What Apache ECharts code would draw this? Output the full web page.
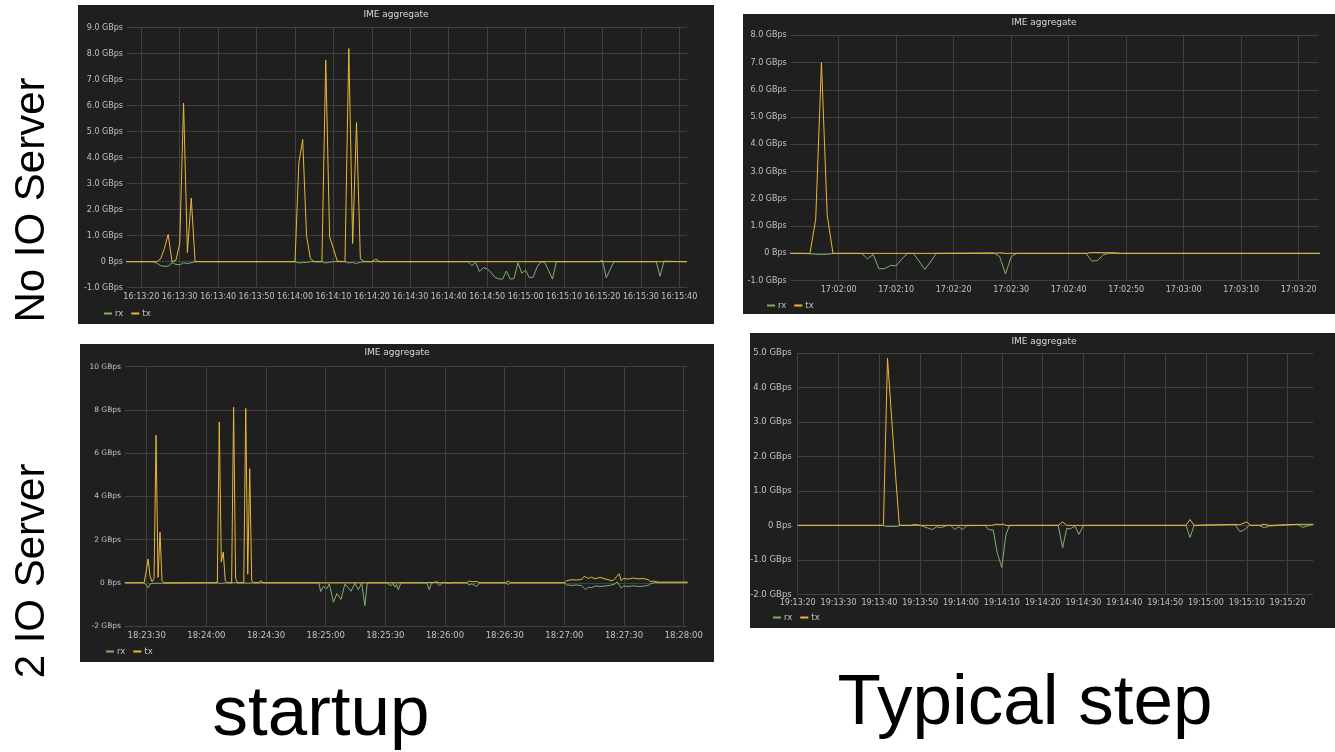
<!DOCTYPE html>
<html>
<head>
<meta charset="utf-8">
<title>IME aggregate</title>
<script src="https://cdn.jsdelivr.net/npm/echarts@6/dist/echarts.min.js"></script>
<style>
  html, body { margin: 0; padding: 0; background: #ffffff; }
  #chart { width: 1335px; height: 752px; }
</style>
</head>
<body>
<div id="chart"></div>
<script>
// Throughput samples in GBps: [seconds after the first labelled tick, value]

// No IO Server, startup (first tick 16:13:20)
const startupNoIoRx = [[-4,0],[3,0],[4,-0.05],[5,-0.15],[6,-0.18],[7,-0.17],[8,-0.04],[9,-0.1],[10,-0.12],[11,-0.04],[12,-0.07],[13,-0.04],[14,0],
  [40,0],[41,-0.05],[42,-0.03],[43,-0.03],[44,0],[47,0],[48,-0.05],[49,-0.02],[50,0],[53,0],[54,-0.05],[55,-0.03],[56,-0.07],[57,-0.02],[58,0],
  [85,0],[86,-0.15],[87,-0.03],[88,-0.38],[89,-0.23],[90,-0.27],[91,-0.42],[92,-0.59],[93,-0.66],[94,-0.67],[95,-0.36],[96,-0.67],[97,-0.65],
  [98,-0.04],[99,-0.44],[100,-0.33],[101,-0.62],[102,-0.59],[103,-0.2],[104,0],[105,-0.03],[106,-0.35],[107,-0.67],[108,0],
  [119,0],[120,0.05],[121,-0.62],[122,-0.3],[123,0],[134,0],[135,-0.56],[136,0.02],[142,0]];
const startupNoIoTx = [[-4,0],[4,0],[5,0.1],[6,0.5],[7,1.05],[8,0],[9,0.05],[10,0.7],[11,6.1],[12,0.35],[13,2.45],[14,0],
  [40,0],[41,3.8],[42,4.7],[43,1.0],[44,0.12],[45,0],[47,0],[48,7.75],[49,0.95],[50,0.5],[51,0.02],[53,0],[54,8.2],[55,0.7],[56,5.35],
  [57,0.12],[58,0],[60,0],[61,0.1],[62,0],[142,0]];
const startupNoIoTicks = ['16:13:20','16:13:30','16:13:40','16:13:50','16:14:00','16:14:10','16:14:20','16:14:30',
  '16:14:40','16:14:50','16:15:00','16:15:10','16:15:20','16:15:30','16:15:40'];

// No IO Server, typical step (first tick 17:02:00)
const stepNoIoRx = [[-9,0],[-6,0],[-5,-0.02],[-4,-0.03],[-3,-0.04],[-2,-0.03],[-1,-0.01],[0,0],[4,0],[5,-0.2],[6,-0.04],[7,-0.57],
  [8,-0.56],[9,-0.44],[10,-0.46],[11,-0.2],[12,0],[13,0],[15,-0.59],[17,0],[27,0.02],[28,-0.12],[29,-0.76],[30,-0.12],[31,0],
  [43,0],[44,-0.28],[45,-0.27],[46,-0.05],[47,0],[84,0]];
const stepNoIoTx = [[-9,0],[-5,0],[-4,1.25],[-3,7.0],[-2,1.4],[-1,0],[27,0],[28,0.02],[29,0],[43,0],[44,0.03],[48,0.02],[49,0],[84,0]];
const stepNoIoTicks = ['17:02:00','17:02:10','17:02:20','17:02:30','17:02:40','17:02:50','17:03:00','17:03:10','17:03:20'];

// 2 IO Server, startup (first tick 18:23:30)
const startup2IoRx = [[-11,0],[-1.3,0],[-0.3,-0.1],[0.7,-0.23],[1.7,-0.05],[2.7,-0.12],[3.7,-0.02],[4.7,-0.05],[5.7,-0.02],[6.7,-0.06],
  [7.7,-0.02],[8.7,0],[35.5,0],[36.5,-0.05],[37.5,-0.03],[38.5,-0.05],[39.5,0],[42.7,0],[43.7,-0.04],[44.7,0],[48.8,0],[49.8,-0.06],
  [50.8,-0.02],[51.8,-0.04],[52.8,0],
  [86.5,0],[87.5,-0.4],[88.8,-0.17],[90.5,-0.28],[91.8,-0.05],[93.9,-0.9],[95.6,-0.5],[97.7,-0.77],[99.7,-0.05],[102.7,-0.39],
  [104.7,-0.02],[106.4,-0.32],[108.1,-0.02],[109.7,-1.06],[110.9,0],
  [120.5,0],[121.5,-0.05],[122.8,-0.14],[123.8,-0.03],[124.8,-0.2],[125.6,-0.08],[126.5,-0.32],[127.8,0],
  [140.8,0],[142,-0.32],[143.3,0],[145.5,0.02],[147.3,-0.14],[149,0.02],[151.7,-0.03],[153,0],
  [161,0],[162,-0.1],[163.5,-0.05],[165.9,-0.17],[167.6,0],[180.5,0],[181.8,-0.08],[183,0],
  [210,0],[211.2,-0.1],[213.7,-0.12],[216.2,-0.1],[218.7,-0.13],[220.7,-0.32],[222,-0.2],[223.7,-0.23],[225.4,-0.15],[227.9,-0.17],
  [230.4,-0.15],[232.9,-0.12],[235.5,-0.05],[236.5,0.05],[238.6,-0.25],[239.6,-0.15],[242.1,-0.17],[244.7,-0.14],[247.2,-0.17],
  [249.7,-0.16],[252.2,-0.12],[253.5,-0.04],[255,0],[272,0]];
const startup2IoTx = [[-11,0],[-1.3,0],[-0.3,0.5],[0.7,1.1],[1.7,0.3],[2.7,0.05],[3.7,0.2],[4.7,6.82],[5.7,0.25],[6.7,2.34],[7.7,0.1],
  [8.7,0],[35.5,0],[36.5,7.44],[37.5,0.96],[38.5,1.42],[39.5,0.1],[40.5,0],[42.7,0],[43.7,8.13],[44.7,0.2],[45.7,0],[48.8,0],
  [49.8,8.07],[50.8,0.4],[51.8,5.28],[52.8,0.1],[53.8,0],[56.5,0],[57.4,0.1],[58.4,0],
  [140.8,0],[142,0.02],[144,0],[145.5,0.05],[147,0],[160.9,0],[162,0.08],[164,0.05],[166,0.06],[167.6,0],[180.5,0],[181.8,0.08],[183,0],
  [210,0],[211.2,0.1],[213.7,0.14],[216.2,0.13],[218.7,0.15],[220,0.3],[220.7,0.34],[222,0.2],[223.7,0.26],[225.4,0.18],[227.9,0.25],
  [230.4,0.18],[232.9,0.12],[234.5,0.1],[235.5,0.18],[237.5,0.42],[238.6,0.1],[239.6,0.2],[242.1,0.17],[244.7,0.22],[247.2,0.18],
  [249.7,0.2],[252.2,0.14],[253.5,0.05],[254.7,0.08],[257.2,0.03],[272,0.03]];
const startup2IoTicks = ['18:23:30','18:24:00','18:24:30','18:25:00','18:25:30','18:26:00','18:26:30','18:27:00','18:27:30','18:28:00'];

// 2 IO Server, typical step (first tick 19:13:20)
const step2IoRx = [[0,0],[20.8,0],[21.5,-0.03],[24.5,-0.03],[25,0],[30,0],[30.9,-0.04],[32.9,-0.12],[34.1,-0.04],[35.2,-0.07],[36.5,0],
  [37.5,0],[38.5,-0.12],[39.4,-0.04],[40.4,-0.12],[41.4,-0.01],[45.9,0],[46.7,-0.12],[47.9,-0.14],[48.9,-0.81],[50,-1.22],[51,-0.28],
  [51.8,-0.02],[52.5,0],[63.8,0],[64.9,-0.65],[65.9,-0.09],[66.8,-0.1],[67.9,-0.02],[68.9,-0.26],[69.9,-0.02],[70.5,0],
  [95.1,0],[96.1,-0.35],[97.1,0],[107.1,0.03],[108.3,-0.18],[109.3,-0.14],[110.6,0],[113,0],[114.3,-0.07],[115.5,-0.02],
  [122.5,0.03],[123.8,-0.06],[125,-0.01],[126.3,0.03]];
const step2IoTx = [[0,0],[21,0],[22,4.85],[24.1,1.25],[24.9,0],[28,0],[28.5,0.03],[30,0],[47.5,0],[48.5,0.03],[50.5,0.03],[51,0],
  [63.8,0],[64.9,0.1],[65.9,0],[95.1,0],[96.1,0.17],[97.1,0],[107.1,0.02],[108.3,0.02],[110,0.1],[111,0],[113,0],[114.3,0.03],
  [115.5,0],[122.5,0.03],[126.3,0.03]];
const step2IoTicks = ['19:13:20','19:13:30','19:13:40','19:13:50','19:14:00','19:14:10','19:14:20','19:14:30','19:14:40',
  '19:14:50','19:15:00','19:15:10','19:15:20'];

// Styling
const RX_COLOR = '#7EB26D';
const TX_COLOR = '#EAB839';
const PANEL_BG = '#1f1f1f';
const GRID_COLOR = '#404040';
const LABEL_COLOR = '#c2c2c2';
const MONO = '"DejaVu Sans", sans-serif';

const fmtTenth = v => (v === 0 ? '0 Bps' : v.toFixed(1) + ' GBps');
const fmtWhole = v => (v === 0 ? '0 Bps' : v + ' GBps');

// Panel layout: box = panel rectangle, plot = [left, top, right, bottom] of the drawing area,
// span = time range (s) covered by the drawing area, legendAt = [x, y] of the legend
const panels = [
  { rx: startupNoIoRx, tx: startupNoIoTx, ticks: startupNoIoTicks, step: 10,
    yMin: -1, yMax: 9, yStep: 1, yFmt: fmtTenth, yFont: 8, xFont: 8,
    box: [78, 5, 636, 319], plot: [127, 27.7, 687, 287.7], span: [-3.72, 142.0],
    titleAt: [396, 15], legendAt: [104, 309], yMargin: 4 },
  { rx: stepNoIoRx, tx: stepNoIoTx, ticks: stepNoIoTicks, step: 10,
    yMin: -1, yMax: 8, yStep: 1, yFmt: fmtTenth, yFont: 8, xFont: 8,
    box: [743, 14, 600, 300], plot: [790.7, 35.3, 1318.7, 280.6], span: [-8.35, 83.48],
    titleAt: [1044, 23], legendAt: [767, 301], yMargin: 4 },
  { rx: startup2IoRx, tx: startup2IoTx, ticks: startup2IoTicks, step: 30,
    yMin: -2, yMax: 10, yStep: 2, yFmt: fmtWhole, yFont: 7.5, xFont: 8.5,
    box: [80, 344, 634, 318], plot: [125, 366.7, 687.3, 626], span: [-10.91, 271.8],
    titleAt: [397, 353], legendAt: [106, 647], yMargin: 4 },
  { rx: step2IoRx, tx: step2IoTx, ticks: step2IoTicks, step: 10,
    yMin: -2, yMax: 5, yStep: 1, yFmt: fmtTenth, yFont: 8.5, xFont: 8,
    box: [750, 333, 600, 295], plot: [797.7, 353, 1313.3, 594.3], span: [0, 126.3],
    titleAt: [1044, 342], legendAt: [773, 613], yMargin: 6 }
];

const grid = [], xAxis = [], yAxis = [], series = [], legend = [], graphic = [];

panels.forEach((p, i) => {
  const [L, T, R, B] = p.plot;
  const [a, b] = p.span;
  const pxPerSec = (R - L) / (b - a);
  const lastTick = (p.ticks.length - 1) * p.step;
  const gData = grid.length;
  const gTicks = gData + 1;

  graphic.push({
    type: 'rect', z: -10, silent: true,
    shape: { x: p.box[0], y: p.box[1], width: p.box[2], height: p.box[3] },
    style: { fill: PANEL_BG }
  });
  graphic.push({
    type: 'text', z: 10, silent: true, x: p.titleAt[0], y: p.titleAt[1],
    style: { text: 'IME aggregate', fill: '#d8d9da', font: '9px ' + MONO,
             align: 'center', verticalAlign: 'middle', textAlign: 'center', textVerticalAlign: 'middle' }
  });

  // drawing area: series + horizontal grid lines
  grid.push({ left: L, top: T, width: R - L, height: B - T, containLabel: false });
  // labelled time ticks: spans first to last tick, same vertical extent
  grid.push({ left: L + (0 - a) * pxPerSec, top: T, width: lastTick * pxPerSec, height: B - T, containLabel: false });

  xAxis.push({ gridIndex: gData, type: 'value', min: a, max: b, show: false });
  yAxis.push({
    gridIndex: gData, type: 'value', min: p.yMin, max: p.yMax, interval: p.yStep,
    axisLine: { show: false }, axisTick: { show: false },
    axisLabel: { formatter: p.yFmt, color: LABEL_COLOR, fontSize: p.yFont, fontFamily: MONO, margin: p.yMargin },
    splitLine: { show: true, lineStyle: { color: GRID_COLOR, width: 1 } }
  });

  xAxis.push({
    gridIndex: gTicks, type: 'value', min: 0, max: lastTick, interval: p.step,
    axisLine: { show: false }, axisTick: { show: false },
    axisLabel: {
      formatter: v => p.ticks[Math.round(v / p.step)] || '',
      color: LABEL_COLOR, fontSize: p.xFont, fontFamily: MONO, margin: 5,
      showMinLabel: true, showMaxLabel: true, hideOverlap: false
    },
    splitLine: { show: true, lineStyle: { color: GRID_COLOR, width: 1 } }
  });
  yAxis.push({ gridIndex: gTicks, type: 'value', min: 0, max: 1, show: false });

  series.push({
    name: 'rx', type: 'line', xAxisIndex: gData, yAxisIndex: gData, data: p.rx,
    color: RX_COLOR, showSymbol: false, symbol: 'none', smooth: false, z: 3,
    lineStyle: { color: RX_COLOR, width: 1 }, animation: false
  });
  series.push({
    name: 'tx', type: 'line', xAxisIndex: gData, yAxisIndex: gData, data: p.tx,
    color: TX_COLOR, showSymbol: false, symbol: 'none', smooth: false, z: 4,
    lineStyle: { color: TX_COLOR, width: 1 }, animation: false
  });

  legend.push({
    left: p.legendAt[0], top: p.legendAt[1], orient: 'horizontal',
    data: ['rx', 'tx'], icon: 'rect', itemWidth: 8, itemHeight: 2, itemGap: 8,
    padding: 0, selectedMode: false,
    textStyle: { color: LABEL_COLOR, fontSize: 8.5, fontFamily: MONO, padding: [0, 0, 0, -2] }
  });
});

// Row and column captions
const CAPTION_FONT = '"Liberation Sans", Arial, sans-serif';
graphic.push(
  { type: 'text', z: 10, silent: true, x: 32, y: 200, rotation: Math.PI / 2,
    style: { text: 'No IO Server', fill: '#000', font: '42px ' + CAPTION_FONT,
             align: 'center', verticalAlign: 'middle', textAlign: 'center', textVerticalAlign: 'middle' } },
  { type: 'text', z: 10, silent: true, x: 32, y: 571, rotation: Math.PI / 2,
    style: { text: '2 IO Server', fill: '#000', font: '42px ' + CAPTION_FONT,
             align: 'center', verticalAlign: 'middle', textAlign: 'center', textVerticalAlign: 'middle' } },
  { type: 'text', z: 10, silent: true, x: 321, y: 715,
    style: { text: 'startup', fill: '#000', font: '71px ' + CAPTION_FONT,
             align: 'center', verticalAlign: 'middle', textAlign: 'center', textVerticalAlign: 'middle' } },
  { type: 'text', z: 10, silent: true, x: 1025, y: 704,
    style: { text: 'Typical step', fill: '#000', font: '71px ' + CAPTION_FONT,
             align: 'center', verticalAlign: 'middle', textAlign: 'center', textVerticalAlign: 'middle' } }
);

const chart = echarts.init(document.getElementById('chart'), null, { renderer: 'canvas' });
chart.setOption({
  backgroundColor: '#ffffff',
  animation: false,
  tooltip: { show: false },
  grid, xAxis, yAxis, series, legend, graphic
});
</script>
</body>
</html>
